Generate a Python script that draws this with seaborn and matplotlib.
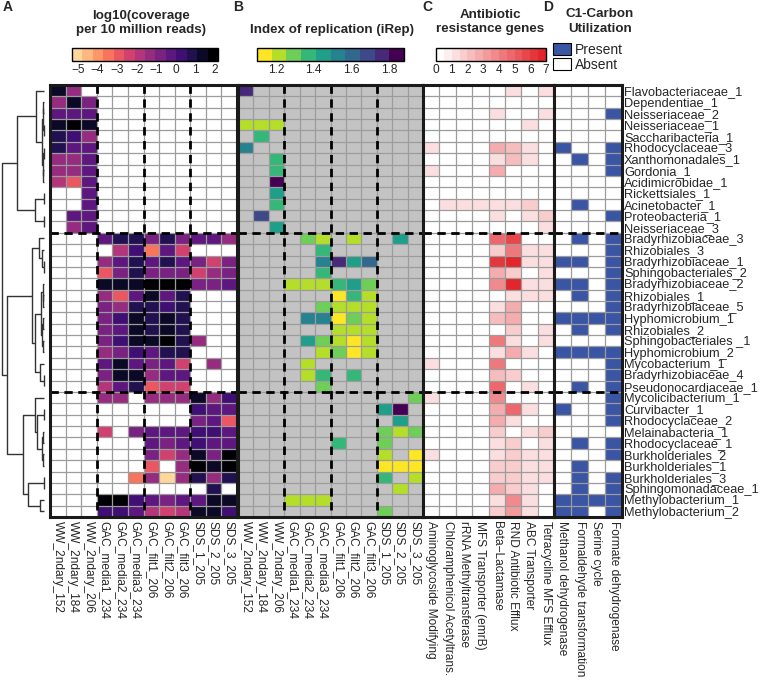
import numpy as np
import pandas as pd
import matplotlib
matplotlib.use("Agg")
import matplotlib.pyplot as plt
from matplotlib.colors import ListedColormap, LinearSegmentedColormap
from matplotlib.patches import Patch
import seaborn as sns

n = np.nan

ROWS = ["Flavobacteriaceae_1", "Dependentiae_1", "Neisseriaceae_2", "Neisseriaceae_1",
        "Saccharibacteria_1", "Rhodocyclaceae_3", "Xanthomonadales_1", "Gordonia_1",
        "Acidimicrobidae_1", "Rickettsiales_1", "Acinetobacter_1", "Proteobacteria_1",
        "Neisseriaceae_3", "Bradyrhizobiaceae_3", "Rhizobiales_3", "Bradyrhizobiaceae_1",
        "Sphingobacteriales_2", "Bradyrhizobiaceae_2", "Rhizobiales_1", "Bradyrhizobiaceae_5",
        "Hyphomicrobium_1", "Rhizobiales_2", "Sphingobacteriales _1", "Hyphomicrobium_2",
        "Mycobacterium_1", "Bradyrhizobiaceae_4", "Pseudonocardiaceae_1", "Mycolicibacterium_1",
        "Curvibacter_1", "Rhodocyclaceae_2", "Melainabacteria_1", "Rhodocyclaceae_1",
        "Burkholderiales_2", "Burkholderiales_1", "Burkholderiales_3", "Sphingomonadaceae_1",
        "Methylobacterium_1", "Methylobacterium_2"]

SAMPLES = ["WW_2ndary_152", "WW_2ndary_184", "WW_2ndary_206", "GAC_media1_234",
           "GAC_media2_234", "GAC_media3_234", "GAC_filt1_206", "GAC_filt2_206",
           "GAC_filt3_206", "SDS_1_205", "SDS_2_205", "SDS_3_205"]

ARG_NAMES = ["Aminoglycoside Modifying", "Chloramphenicol Acetyltrans.", "rRNA Methyltransferase",
             "MFS Transporter (emrB)", "Beta\u2212Lactamase", "RND Antibiotic Efflux",
             "ABC Transporter", "Tetracycline MFS Efflux"]

C1_NAMES = ["Methanol dehydrogenase", "Formaldehyde transformation", "Serine cycle",
            "Formate dehydrogenase"]

# log10(coverage per 10 million reads)
COVERAGE = [
    [1.5, -1.5, n, n, n, n, n, n, n, n, n, n],
    [-1.5, 1.5, -1, n, n, n, n, n, n, n, n, n],
    [0, 0, -0.5, n, n, n, n, n, n, n, n, n],
    [1.5, 2, 1.5, n, n, n, n, n, n, n, n, n],
    [1, 0.5, -1.5, n, n, n, n, n, n, n, n, n],
    [1, -0.5, -0.5, n, n, n, n, n, n, n, n, n],
    [-1.5, -1.5, 0, n, n, n, n, n, n, n, n, n],
    [-1.5, -1.5, 0, n, n, n, n, n, n, n, n, n],
    [-2, -3, 0, n, n, n, n, n, n, n, n, n],
    [n, n, 0, n, n, n, n, n, n, n, n, n],
    [n, n, 0, n, n, n, n, n, n, n, n, n],
    [n, 0, -0.5, n, n, n, n, n, n, n, n, n],
    [n, -1.5, 0, n, n, n, n, n, n, n, n, n],
    [n, n, n, -0.5, 1, 1, -1, 1, -1, 0, 0, -1.5],
    [n, n, n, n, -2, 0.5, -3.5, -0.5, -2.5, n, n, n],
    [n, n, n, -1.5, -0.5, 1, 0, 1, 0, -1, -2.5, -1],
    [n, n, n, -3, -1, 1, -1, -1, -1, -2.5, -1.5, -1],
    [n, n, n, 1.5, 1.5, 1.5, 2, 2, 2, -1, -1, -0.5],
    [n, n, n, -1.5, -3, -0.5, 1.5, 0, 1, n, n, n],
    [n, n, n, -1, -1.5, 1, 1, 0.5, 1, n, n, n],
    [n, n, n, -1, 0.5, 1.5, 1, 1.5, 1, n, n, n],
    [n, n, n, -1, -0.5, 1.5, 1, 1.5, 1, n, n, n],
    [n, n, n, -1, 0.5, 1.5, 1.5, 2, 1, -1.5, n, n],
    [n, n, n, -1.5, -1, 0.5, 0, 1, 1, n, n, n],
    [n, n, n, 0, 1.5, 0, -1, -0.5, -2.5, n, -1.5, n],
    [n, n, n, -1, 1.5, 1.5, -1.5, 0, -0.5, n, n, n],
    [n, n, n, -2, -0.5, 1, -3, -2.5, -2.5, n, n, n],
    [n, n, n, -1.5, -1.5, n, -1.5, -1.5, -1.5, 1.5, -1.5, 0.5],
    [n, n, n, n, n, n, n, n, n, 0.5, 0, -0.5],
    [n, n, n, n, n, n, n, n, n, -1, 0, -3],
    [n, n, n, -2.5, n, -1, 0, -0.5, -0.5, 0.5, 0.5, 0],
    [n, n, n, n, n, n, 0, -1, -0.5, 0.5, -0.5, 0],
    [n, n, n, n, n, n, -1, -2.5, -1.5, 1.5, -1, 2],
    [n, n, n, n, n, n, -3, n, -1.5, 2, 1.5, 2],
    [n, n, n, n, n, -3.5, -1.5, -5, -1.5, 1, -1.5, 1],
    [n, n, n, n, n, n, n, n, n, n, 1, n],
    [n, n, n, 2, 2, 0.5, 0, -1, -0.5, 0, 1.5, 1.5],
    [n, n, n, 0.5, 0.5, 0, -2, -2.5, -2, 1.5, 1.5, 0.5],
]

# iRep values: (row, sample column, value); all other cells have no estimate
IREP_CELLS = [
    (0, 0, 1.78), (3, 0, 1.2), (3, 1, 1.2), (3, 2, 1.2), (4, 1, 1.36), (5, 0, 1.55),
    (6, 2, 1.36), (7, 2, 1.36), (8, 2, 1.85), (9, 2, 1.45), (10, 2, 1.36), (11, 1, 1.68),
    (12, 2, 1.45), (13, 4, 1.28), (13, 5, 1.2), (13, 7, 1.2), (13, 10, 1.45), (14, 5, 1.36),
    (15, 5, 1.55), (15, 6, 1.76), (15, 7, 1.45), (15, 8, 1.64), (16, 5, 1.36),
    (17, 3, 1.2), (17, 4, 1.2), (17, 5, 1.2), (17, 6, 1.36), (17, 7, 1.45), (17, 8, 1.28),
    (18, 6, 1.12), (18, 7, 1.36), (18, 8, 1.2),
    (19, 5, 1.28), (19, 6, 1.2), (19, 7, 1.2), (19, 8, 1.2),
    (20, 4, 1.55), (20, 5, 1.55), (20, 6, 1.12), (20, 7, 1.28), (20, 8, 1.2),
    (21, 6, 1.2), (21, 7, 1.2), (21, 8, 1.2),
    (22, 4, 1.45), (22, 5, 1.28), (22, 6, 1.2), (22, 7, 1.12), (22, 8, 1.2),
    (23, 5, 1.2), (23, 6, 1.28), (23, 7, 1.12), (23, 8, 1.2),
    (24, 4, 1.2), (25, 4, 1.2), (25, 5, 1.36), (25, 7, 1.36), (26, 5, 1.28),
    (27, 11, 1.28), (28, 9, 1.45), (28, 10, 1.85), (29, 10, 1.45),
    (30, 9, 1.28), (30, 10, 1.2), (30, 11, 1.28), (31, 6, 1.36), (31, 9, 1.28),
    (32, 9, 1.2), (32, 11, 1.12), (33, 9, 1.12), (33, 10, 1.12), (33, 11, 1.12),
    (34, 9, 1.36), (34, 11, 1.2), (35, 10, 1.2), (36, 3, 1.2), (36, 4, 1.2), (36, 5, 1.2),
    (37, 9, 1.28),
]

# antibiotic resistance gene counts
ARG = [
    [0, 0, 0, 0, 0, 1, 0, 1], [0, 0, 0, 0, 0, 0, 0, 0], [0, 0, 0, 0, 1, 0, 0, 1],
    [0, 0, 0, 0, 0, 0, 1, 0], [0, 0, 0, 0, 0, 0, 0, 0], [1, 0, 0, 0, 2.5, 2, 1, 0],
    [0, 0, 0, 0, 1, 2, 1, 0], [1, 0, 0, 0, 2.5, 0, 0, 0], [0, 0, 0, 0, 0, 0, 0, 0],
    [0, 0, 0, 0, 0, 0, 0, 0], [0, 1, 1, 1, 1, 1, 1.5, 0], [0, 0, 0, 0, 1, 0, 1, 1.5],
    [0, 0, 0, 0, 0, 0, 0, 1], [0, 0, 0, 0, 4.5, 5.5, 0, 0], [0, 0, 0, 0, 1.5, 4, 1, 1],
    [0, 0, 0, 0, 6, 6.5, 1, 1], [0, 0, 0, 0, 2.5, 1.5, 0, 1], [0, 0, 0, 0, 3.5, 7, 1, 1],
    [0, 0, 0, 0, 0, 1, 1, 1], [0, 0, 0, 0, 1, 2.5, 0, 0], [0, 0, 0, 0, 2, 2.5, 0, 0],
    [0, 0, 0, 0, 0, 1.5, 0, 1], [0, 0, 0, 0, 4, 1, 0, 1], [0, 0, 0, 0, 1, 2.5, 1, 0],
    [1, 0, 0, 0, 4, 0, 0, 0], [0, 0, 0, 0, 2, 1.5, 0, 0], [0, 0, 0, 0, 4.5, 0, 1, 0],
    [1, 0, 0, 0, 3.5, 0, 0, 0], [0, 0, 0, 0, 2.5, 4.5, 1, 0], [0, 0, 0, 0, 2.5, 1, 0, 0],
    [0, 0, 0, 0, 1.5, 0, 1, 1.5], [0, 0, 0, 0, 1, 1.5, 0, 1], [1, 0, 0, 0, 1, 1.5, 1, 1],
    [0, 0, 0, 0, 1.5, 1.5, 1, 1], [0, 0, 0, 0, 1.5, 1.5, 1, 1], [0, 0, 0, 0, 2.5, 1.5, 1, 0],
    [0, 0, 0, 0, 1, 3.5, 1, 0], [0, 0, 0, 0, 1.5, 3, 1, 0],
]

# C1-carbon utilization (1 = present)
C1 = [
    [0, 0, 0, 0], [0, 0, 0, 0], [0, 0, 0, 1], [0, 0, 0, 0], [0, 0, 0, 0], [1, 0, 0, 1],
    [0, 1, 0, 1], [0, 0, 0, 1], [0, 0, 0, 0], [0, 0, 0, 0], [0, 1, 0, 0], [0, 0, 0, 1],
    [0, 0, 0, 0], [0, 1, 0, 1], [0, 0, 0, 1], [1, 1, 0, 1], [0, 0, 0, 1], [1, 1, 0, 1],
    [0, 1, 0, 1], [0, 0, 0, 1], [1, 1, 1, 1], [0, 1, 0, 1], [0, 0, 0, 0], [1, 1, 1, 1],
    [0, 0, 0, 1], [0, 0, 0, 1], [0, 1, 0, 1], [0, 0, 0, 1], [1, 0, 0, 1], [0, 0, 0, 1],
    [0, 0, 0, 0], [0, 1, 0, 1], [0, 0, 0, 1], [0, 1, 0, 0], [0, 1, 0, 1], [0, 1, 0, 1],
    [1, 1, 1, 1], [1, 1, 0, 1],
]

# row dendrogram: (left, right, height); ids >= 38 refer to earlier merges
LINKAGE = [
    (1, 2, 3), (3, 4, 2), (5, 6, 2), (7, 8, 3), (38, 39, 4), (40, 41, 4), (42, 43, 6),
    (0, 44, 26), (9, 10, 2), (11, 12, 2), (46, 47, 28), (45, 48, 83),
    (15, 16, 2), (14, 50, 6), (13, 51, 16), (18, 19, 3), (17, 53, 5), (20, 21, 3),
    (22, 23, 3), (55, 56, 6), (54, 57, 11), (25, 26, 1), (24, 59, 13), (58, 60, 28),
    (52, 61, 36), (28, 29, 2), (30, 31, 3), (32, 33, 3), (64, 65, 8), (63, 66, 21),
    (27, 67, 28), (34, 35, 2), (36, 37, 13), (69, 70, 48), (68, 71, 63), (62, 72, 113),
    (49, 73, 128),
]

ROW_BREAKS = [13, 27]
COL_BREAKS = [3, 6, 9]

# ---------------------------------------------------------------- styling
sns.set_theme(style="white")
plt.rcParams["font.family"] = ["Liberation Sans", "DejaVu Sans"]

W, H = 760, 691
fig = plt.figure(figsize=(W / 100, H / 100), dpi=100)


def box(x0, y0, x1, y1):
    return [x0 / W, 1 - y1 / H, (x1 - x0) / W, (y1 - y0) / H]


GRID_TOP, GRID_BOT = 85, 517
GRID_C = "#9c9c9c"
BLUE = "#3b55a5"

cov_df = pd.DataFrame(COVERAGE, index=ROWS, columns=SAMPLES)
irep = np.full((len(ROWS), len(SAMPLES)), np.nan)
for r, c, v in IREP_CELLS:
    irep[r, c] = v
irep_df = pd.DataFrame(irep, index=ROWS, columns=SAMPLES)
arg_df = pd.DataFrame(ARG, index=ROWS, columns=ARG_NAMES)
c1_df = pd.DataFrame(C1, index=ROWS, columns=C1_NAMES)

cmap_a = ListedColormap(plt.get_cmap("magma")(np.linspace(0.92, 0.0, 14)))
cmap_b = ListedColormap(plt.get_cmap("viridis")(np.linspace(1.0, 0.0, 10)))
reds = LinearSegmentedColormap.from_list("w2r", ["#ffffff", "#e3262b"])
cmap_c = ListedColormap(reds(np.linspace(0, 1, 14)))
cmap_d = ListedColormap(["#ffffff", BLUE])

panels = [
    (cov_df, cmap_a, -5.3, 2.15, 50, 237, "white", True),
    (irep_df, cmap_b, 1.1, 1.88, 238, 423, "#c3c3c3", True),
    (arg_df, cmap_c, 0, 7, 423, 554, "white", False),
    (c1_df, cmap_d, 0, 1, 554, 622, "white", False),
]

axes = []
for df, cmap, vmin, vmax, x0, x1, bg, vdash in panels:
    ax = fig.add_axes(box(x0, GRID_TOP, x1, GRID_BOT))
    ax.set_facecolor(bg)
    sns.heatmap(df, ax=ax, cmap=cmap, vmin=vmin, vmax=vmax, cbar=False,
                xticklabels=True, yticklabels=False)
    nr, nc = df.shape
    ax.hlines(np.arange(1, nr), 0, nc, color=GRID_C, lw=0.9, zorder=2)
    ax.vlines(np.arange(1, nc), 0, nr, color=GRID_C, lw=0.9, zorder=2)
    for rb in ROW_BREAKS:
        ax.hlines(rb, 0, nc, color="black", lw=2.0, linestyles=(0, (3, 2)), zorder=3)
    if vdash:
        for cb in COL_BREAKS:
            ax.vlines(cb, 0, nr, color="black", lw=2.0, linestyles=(0, (3, 2)), zorder=3)
    ax.set_xlim(0, nc)
    ax.set_ylim(nr, 0)
    for s in ax.spines.values():
        s.set_visible(True)
        s.set_color("#1a1a1a")
        s.set_linewidth(2.2)
        s.set_zorder(4)
    ax.set_xticks(np.arange(nc) + 0.5)
    ax.set_xticklabels(df.columns, rotation=-90, ha="center", va="top", fontsize=8.6)
    ax.tick_params(axis="x", length=0, pad=3)
    ax.set_xlabel("")
    ax.set_ylabel("")
    axes.append(ax)

# row labels on the right of panel D
axd = axes[3]
axd.set_yticks(np.arange(len(ROWS)) + 0.5)
axd.set_yticklabels(ROWS, rotation=0, fontsize=9.2)
axd.yaxis.tick_right()
axd.tick_params(axis="y", length=0, pad=1.5)
for lab in axd.get_yticklabels():
    lab.set_ha("left")

# ---------------------------------------------------------------- dendrogram
axt = fig.add_axes(box(1.7, GRID_TOP, 44.3, GRID_BOT))
pos = {i: i + 0.5 for i in range(len(ROWS))}
hgt = {i: 0.0 for i in range(len(ROWS))}
for k, (a, b, h) in enumerate(LINKAGE):
    ya, yb = pos[a], pos[b]
    axt.plot([hgt[a], h, h, hgt[b]], [ya, ya, yb, yb], color="#333333", lw=1.0,
             solid_capstyle="butt", clip_on=False)
    pos[len(ROWS) + k] = (ya + yb) / 2
    hgt[len(ROWS) + k] = h
axt.set_xlim(max(h for _, _, h in LINKAGE), 0)
axt.set_ylim(len(ROWS), 0)
axt.axis("off")

# ---------------------------------------------------------------- colorbars
def add_cbar(ax_src, x0, x1, ticks, labels):
    cax = fig.add_axes(box(x0, 48, x1, 61))
    cb = fig.colorbar(ax_src.collections[0], cax=cax, orientation="horizontal")
    cb.set_ticks(ticks)
    cb.set_ticklabels(labels)
    cb.outline.set_edgecolor("black")
    cb.outline.set_linewidth(1.0)
    cax.tick_params(length=0, pad=2, labelsize=8.6)
    return cb

add_cbar(axes[0], 72, 218, list(range(-5, 3)), ["\u22125", "\u22124", "\u22123", "\u22122", "\u22121", "0", "1", "2"])
add_cbar(axes[1], 257, 404, [1.2, 1.4, 1.6, 1.8], ["1.2", "1.4", "1.6", "1.8"])
add_cbar(axes[2], 436, 546, list(range(0, 8)), [str(i) for i in range(8)])

# legend for panel D
fig.legend(handles=[Patch(facecolor=BLUE, edgecolor="black", lw=0.8),
                    Patch(facecolor="white", edgecolor="black", lw=0.8)],
           labels=["Present", "Absent"], loc="upper left",
           bbox_to_anchor=(553 / W, 1 - 43 / H), frameon=False, fontsize=10,
           handlelength=1.3, handleheight=0.9, handletextpad=0.3, labelspacing=0.05,
           borderpad=0, borderaxespad=0)

# ---------------------------------------------------------------- titles
def ftxt(x, y, s, size=9.6, weight="bold"):
    fig.text(x / W, 1 - y / H, s, ha="center", va="center", fontsize=size, fontweight=weight)

ftxt(8, 7, "A", 10)
ftxt(238, 7, "B", 10)
ftxt(427, 7, "C", 10)
ftxt(548, 7, "D", 10)
ftxt(141, 16, "log10(coverage")
ftxt(141, 30, "per 10 million reads)")
ftxt(332, 30, "Index of replication (iRep)")
ftxt(490, 15, "Antibiotic")
ftxt(490, 29, "resistance genes")
ftxt(600, 14, "C1-Carbon")
ftxt(600, 29, "Utilization")

fig.savefig("out.png", dpi=100)
